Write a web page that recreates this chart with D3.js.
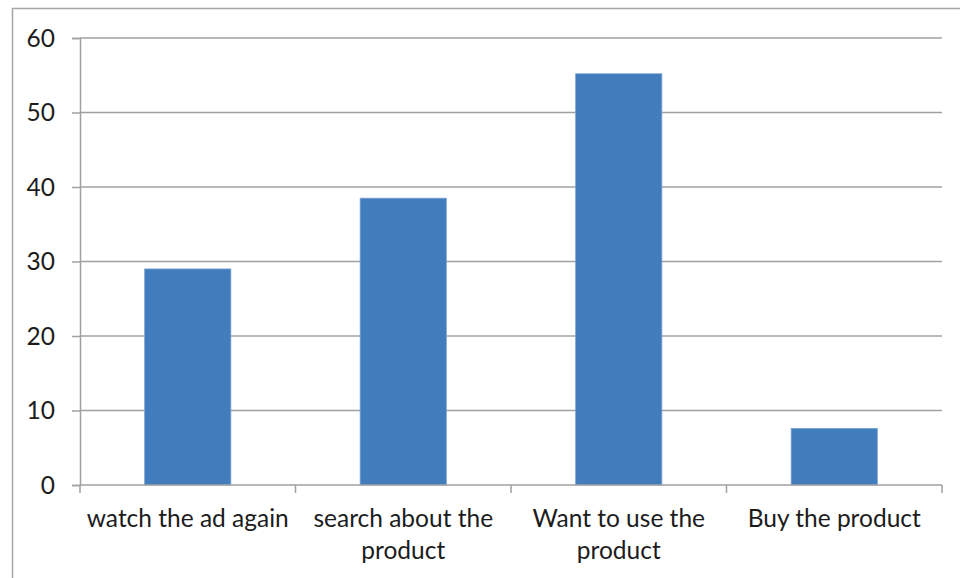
<!DOCTYPE html>
<html>
<head>
<meta charset="utf-8">
<script src="https://cdn.jsdelivr.net/npm/d3@7"></script>
<style>
  html, body { margin: 0; padding: 0; background: #fff; }
  svg { display: block; }
  text { font-family: Lato, "Open Sans", sans-serif; fill: #1c1c1c; }
</style>
</head>
<body>
<svg id="chart" width="960" height="578"></svg>
<script>
// Responses per action
const categories = ["watch the ad again", "search about the product", "Want to use the product", "Buy the product"];
const labelLines = [["watch the ad again"], ["search about the", "product"], ["Want to use the", "product"], ["Buy the product"]];
const values = [29, 38.5, 55.2, 7.6];
const yTicks = [0, 10, 20, 30, 40, 50, 60];

const svg = d3.select("#chart");
const margin = { left: 80, right: 18, top: 38, bottom: 93 };
const W = 960, H = 578;
const FONT = 24.5;

// outer chart frame
svg.append("rect")
  .attr("x", 12.5).attr("y", 8.5)
  .attr("width", 960).attr("height", 600)
  .attr("fill", "none").attr("stroke", "#a6a6a6").attr("stroke-width", 1.5);

const x = d3.scaleBand().domain(categories)
  .range([margin.left, W - margin.right])
  .paddingInner(0.6).paddingOuter(0.3);

const y = d3.scaleLinear().domain([0, 60]).range([H - margin.bottom, margin.top]);

// horizontal gridlines
svg.append("g").selectAll("line").data(yTicks.filter(d => d > 0)).join("line")
  .attr("x1", margin.left).attr("x2", W - margin.right)
  .attr("y1", d => y(d)).attr("y2", d => y(d))
  .attr("stroke", "#a0a0a0").attr("stroke-width", 1.5);

// bars
svg.append("g").selectAll("rect").data(values).join("rect")
  .attr("x", (d, i) => x(categories[i]))
  .attr("width", x.bandwidth())
  .attr("y", d => y(d))
  .attr("height", d => y(0) - y(d))
  .attr("fill", "#417cbc")
  .attr("stroke", "#7aa3d3").attr("stroke-width", 0.8);

// y axis
const yAxis = d3.axisLeft(y).tickValues(yTicks).tickSize(8).tickPadding(17);
const gy = svg.append("g").attr("transform", `translate(${margin.left},0)`).call(yAxis)
  .attr("font-size", FONT).attr("font-family", "Lato, 'Open Sans', sans-serif");
gy.select(".domain").attr("stroke", "#a0a0a0").attr("stroke-width", 1.5);
gy.selectAll(".tick line").attr("stroke", "#a0a0a0").attr("stroke-width", 1.5);
gy.selectAll(".tick text").attr("fill", "#1c1c1c").attr("dy", "0.34em");

// x axis: ticks at category boundaries
const boundaries = d3.range(categories.length + 1).map(i => margin.left + i * (W - margin.right - margin.left) / categories.length);
const gx = svg.append("g");
gx.append("line")
  .attr("x1", margin.left).attr("x2", W - margin.right)
  .attr("y1", y(0)).attr("y2", y(0))
  .attr("stroke", "#a0a0a0").attr("stroke-width", 1.5);
gx.selectAll("line.tk").data(boundaries).join("line").attr("class", "tk")
  .attr("x1", d => d).attr("x2", d => d)
  .attr("y1", y(0)).attr("y2", y(0) + 8)
  .attr("stroke", "#a0a0a0").attr("stroke-width", 1.5);

// category labels
gx.selectAll("text.cat").data(categories).join("text").attr("class", "cat")
  .attr("text-anchor", "middle")
  .attr("font-size", FONT)
  .attr("x", d => x(d) + x.bandwidth() / 2)
  .attr("y", y(0) + 42)
  .each(function(d, i) {
    const t = d3.select(this);
    labelLines[i].forEach((ln, j) => {
      t.append("tspan").attr("x", x(d) + x.bandwidth() / 2).attr("dy", j === 0 ? 0 : 32).text(ln);
    });
  });
</script>
</body>
</html>
